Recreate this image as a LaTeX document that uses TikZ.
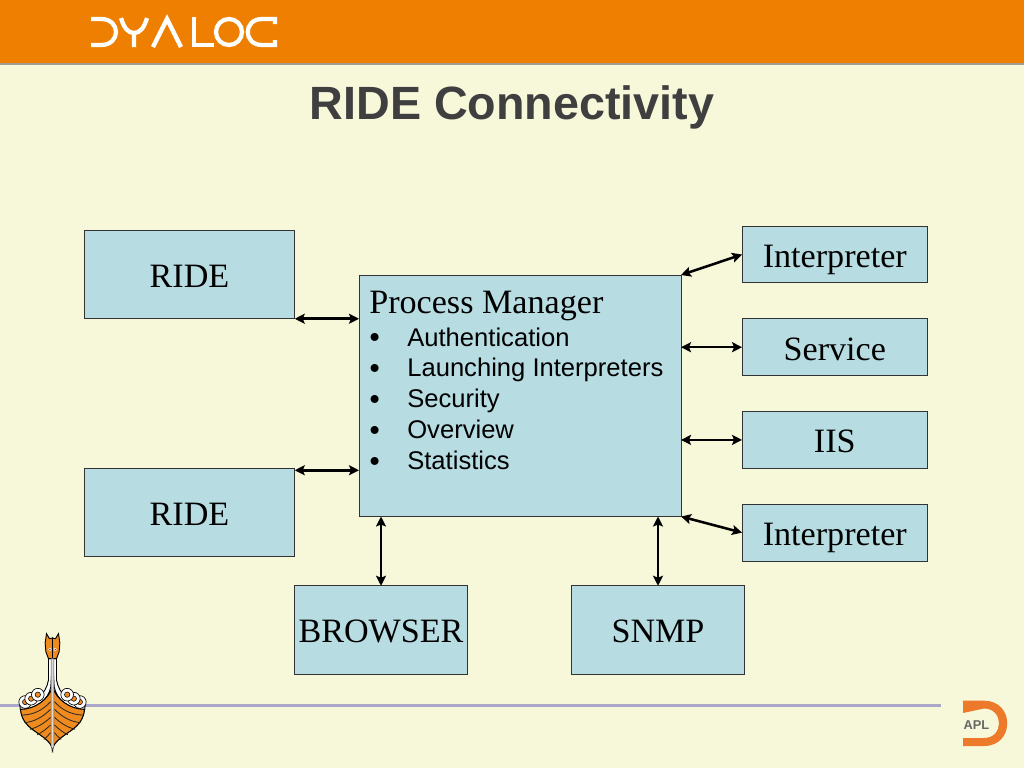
\documentclass[tikz,border=0pt]{standalone}
\usepackage{fontspec}
\setmainfont{Liberation Serif}
\newfontfamily\arialfont{Liberation Sans}
\usepackage{tikz}
\usetikzlibrary{
        arrows.meta,
        positioning
    }
\definecolor{slidebg}{HTML}{F7F7DA}
\definecolor{barorange}{HTML}{EE7F00}
\definecolor{boxblue}{HTML}{B7DDE3}
\definecolor{rulegrey}{HTML}{A39A90}
\definecolor{rulepurple}{HTML}{ABA8CB}
\definecolor{titlegrey}{HTML}{3F3F3F}
\definecolor{hullorange}{HTML}{EE8A1E}
\definecolor{aplorange}{HTML}{EC7A2A}
\def\px{.75pt}
\tikzset{>={Stealth[length=7.5pt,width=7.5pt,inset=1.5pt]},node distance=36*\px}
\tikzset{
    box/.style={draw=black!80,line width=.6pt,fill=boxblue,inner sep=0pt,outer sep=0pt,text height=22pt,text depth=2.8pt,font=\fontsize{25.6}{30}\selectfont},
    sidebox/.style={box,minimum width=185.5*\px,minimum height=56.7*\px},
    ridebox/.style={box,minimum width=210.5*\px,minimum height=88.5*\px},
    lowbox/.style={box,minimum width=173.5*\px,minimum height=88.5*\px},
    link/.style={<->,line width=1.9pt},
    itemline/.style={anchor=base west,inner sep=0pt,font=\arialfont\fontsize{19.2}{23}\selectfont},
    logostroke/.style={draw=white,line width=3.2pt},
    rib/.style={line width=.6pt,draw=black!85}
}

\begin{document}
\begin{tikzpicture}[x=\px,y=-\px]
                \useasboundingbox (0,0) rectangle (1024,768);
                \fill[slidebg] (0,0) rectangle (1024,768);
                \fill[barorange] (0,0) rectangle (1024,63);
                \fill[rulegrey] (0,63) rectangle (1024,65);
                \fill[rulepurple] (0,703.5) rectangle (941,706.5);

                % logo in the bar
                \draw[logostroke] (91,19) -- (101,19) .. controls (121,19) and (121,45) .. (101,45) -- (91,45);
                \draw[logostroke] (121,18) .. controls (124,28) and (128,33) .. (134,33) .. controls (140,33) and (144,28) .. (147,18) (134,33) -- (134,47);
                \draw[logostroke] (153,47) -- (167,19) -- (181,47);
                \draw[logostroke] (194,17) -- (194,45) -- (214,45);
                \draw[logostroke] (229,32) circle (13);
                \draw[logostroke] (275,24) -- (275,19) -- (262,19) .. controls (243,19) and (243,45) .. (262,45) -- (275,45) -- (275,40);

                \node[font=\arialfont\bfseries\fontsize{35}{40}\selectfont,text=titlegrey] (title) at (512,107) {RIDE Connectivity};

                % boxes
                \node[box,anchor=north west,minimum width=322*\px,minimum height=241.5*\px] (pm) at (359,275) {};
                \node[ridebox] (ride1) at (189.5,274.5) {RIDE};
                \node[ridebox] (ride2) at (189.5,512.5) {RIDE};
                \node[sidebox] (interp1) at (834.8,254.5) {Interpreter};
                \node[sidebox] (service) [below=of interp1] {Service};
                \node[sidebox] (iis) [below=of service] {IIS};
                \node[sidebox] (interp2) [below=of iis] {Interpreter};
                \node[lowbox] (browser) at (381,630) {BROWSER};
                \node[lowbox] (snmp) at (658,630) {SNMP};

                \node[anchor=base west,inner sep=0pt,font=\fontsize{25.6}{30}\selectfont] (pmtitle) at (369,313) {Process Manager};
                \foreach \name/\itemtext [count=\i] in {auth/Authentication,launch/Launching Interpreters,secur/Security,over/Overview,stats/Statistics}
                    \node[itemline] (\name) at (368.5,346+30.8*\i-30.8) {\makebox[28.9pt][l]{\raisebox{-2.2pt}{\rmfamily\fontsize{25}{23}\selectfont •}}\itemtext};

                \path[link]
                    (ride1.south east) edge (pm.west |- ride1.south east)
                    ([yshift=-1.5pt]ride2.north east) edge ([yshift=-1.5pt]pm.west |- ride2.north east)
                    (pm.north east) edge (interp1.west)
                    (pm.east |- service.west) edge (service.west)
                    (pm.east |- iis.west) edge (iis.west)
                    (pm.south east) edge (interp2.west)
                    (browser.north) edge (pm.south -| browser.north)
                    (snmp.north) edge (pm.south -| snmp.north);

                % boat
                \begin{scope}[shift={(52.5,620)},x=\px/3,y=-\px/3]
                    \foreach \side in {1,-1} {
                        \begin{scope}[xscale=\side]
                            \draw[black,line width=.7pt,fill=white] (-12,116) -- (-12,180) .. controls (-20,225) and (-55,250) .. (-98,255) -- (-96,272) .. controls (-50,268) and (-12,240) .. (-5,200) -- (0,116) -- cycle;
                            \foreach \sx/\sy in {-82/246,-64/236,-44/224} {
                                \draw[black,fill=white,line width=.5pt] (\sx,\sy) circle (19);
                                \draw[black,fill=hullorange,line width=.4pt] (\sx,\sy) circle (8);
                            }
                            \draw[black,line width=.8pt,fill=hullorange] (0,388) .. controls (-4,365) and (-30,350) .. (-58,330) .. controls (-80,314) and (-94,295) .. (-96,268) .. controls (-55,268) and (-12,240) .. (0,200) -- cycle;
                            \draw[rib] (-6,245) .. controls (-30,272) and (-60,285) .. (-92,285);
                            \draw[rib] (-6,268) .. controls (-30,292) and (-55,305) .. (-84,308);
                            \draw[rib] (-6,292) .. controls (-25,310) and (-45,322) .. (-68,328);
                            \draw[rib] (-6,315) .. controls (-20,328) and (-32,338) .. (-46,344);
                            \draw[rib] (-6,338) .. controls (-12,346) and (-18,352) .. (-26,358);
                            \draw[black,line width=.7pt,fill=hullorange] (0,116) -- (-12,116) -- (-20,95) -- (-22,69) -- (-18,41) -- (-9,56) -- (0,54) -- cycle;
                            \fill[white] (-8,88) circle (5);
                            \fill[black] (-8,88) circle (2);
                        \end{scope}
                    }
                    \draw[black!70,line width=.4pt,fill=white!85!black] (-4,116) -- (4,116) -- (4,380) -- (0,388) -- (-4,380) -- cycle;
                \end{scope}

                % corner mark
                \fill[aplorange] (963,700.7) -- (984,700.7) .. controls (1015,700.7) and (1015,746) .. (984,746) -- (963,746) -- (963,738) -- (984,738) .. controls (1004,738) and (1004,708.5) .. (984,708.5) -- (963,713) -- cycle;
                \node[font=\arialfont\bfseries\fontsize{9.6}{11}\selectfont,text=black!60,inner sep=0pt] (apl) at (976.5,725) {APL};
            \end{tikzpicture}
\end{document}
